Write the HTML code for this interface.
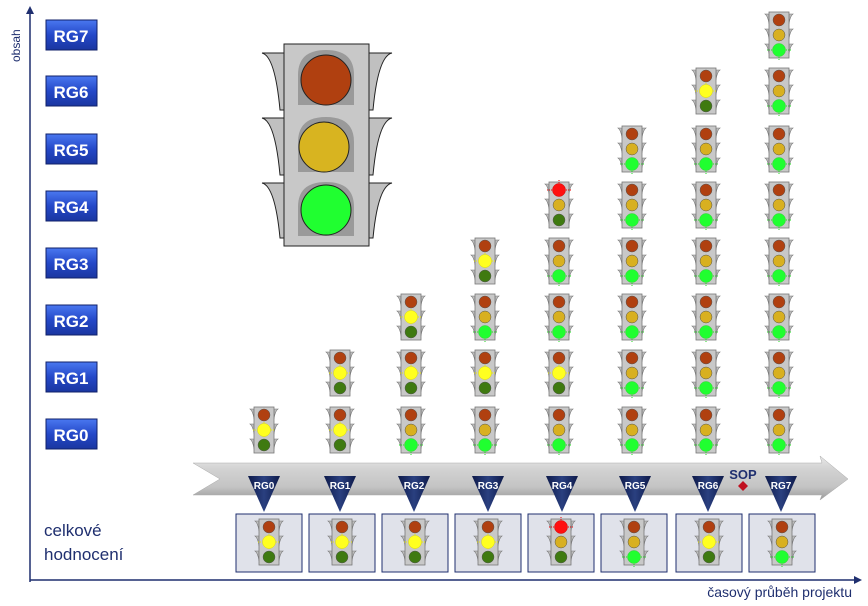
<!DOCTYPE html>
<html><head><meta charset="utf-8"><style>
html,body{margin:0;padding:0;background:#fff;width:868px;height:606px;overflow:hidden}
svg{display:block;font-family:"Liberation Sans",sans-serif}
</style></head><body>
<svg width="868" height="606" viewBox="0 0 868 606" xmlns="http://www.w3.org/2000/svg">
<defs>
<linearGradient id="btn" x1="0" y1="0" x2="0" y2="1"><stop offset="0" stop-color="#4a78f0"/><stop offset="0.5" stop-color="#2448c8"/><stop offset="1" stop-color="#1a36a0"/></linearGradient>
<linearGradient id="band" x1="0" y1="0" x2="0" y2="1"><stop offset="0" stop-color="#e8e8e8"/><stop offset="0.3" stop-color="#d2d2d2"/><stop offset="0.7" stop-color="#c4c4c4"/><stop offset="1" stop-color="#9a9a9a"/></linearGradient>
<linearGradient id="tri" x1="0" y1="0" x2="1" y2="0"><stop offset="0" stop-color="#0e1a4a"/><stop offset="0.5" stop-color="#2a4080"/><stop offset="1" stop-color="#0e1a4a"/></linearGradient>
<g id="body">
<path d="M5 4 L1 4 Q4 6 5 14 Z M25 4 L29 4 Q26 6 25 14 Z M5 19 L1 19 Q4 21 5 29 Z M25 19 L29 19 Q26 21 25 29 Z M5 34 L1 34 Q4 36 5 44 Z M25 34 L29 34 Q26 36 25 44 Z" fill="#bdbdbd" stroke="#777" stroke-width="0.6"/>
<rect x="5" y="2" width="20" height="46" fill="#c8c8c8" stroke="#777" stroke-width="0.8"/>
</g>
<symbol id="tY" viewBox="0 0 30 50" width="30" height="50"><use href="#body"/>
<circle cx="15" cy="10" r="6" fill="#b04010" stroke="#555" stroke-width="0.5"/>
<circle cx="15" cy="25" r="6.5" fill="#ffff20" stroke="#dd0" stroke-width="0.5"/>
<path d="M4 25H8M22 25H26M15 17V19M15 31V33" stroke="#ee0" stroke-dasharray="1 1"/>
<circle cx="15" cy="40" r="6" fill="#3f7a10" stroke="#555" stroke-width="0.5"/></symbol>
<symbol id="tG" viewBox="0 0 30 50" width="30" height="50"><use href="#body"/>
<circle cx="15" cy="10" r="6" fill="#b04010" stroke="#555" stroke-width="0.5"/>
<circle cx="15" cy="25" r="6" fill="#d8b020" stroke="#555" stroke-width="0.5"/>
<circle cx="15" cy="40" r="6.5" fill="#20ff30" stroke="#3c3" stroke-width="0.5"/>
<path d="M3 40H8M22 40H27M15 47V50" stroke="#2d2" stroke-dasharray="1 1"/></symbol>
<symbol id="tR" viewBox="0 0 30 50" width="30" height="50"><use href="#body"/>
<circle cx="15" cy="10" r="6.5" fill="#ff1010" stroke="#c00" stroke-width="0.5"/>
<path d="M3 10H8M22 10H27M15 0V3" stroke="#e00" stroke-dasharray="1 1"/>
<circle cx="15" cy="25" r="6" fill="#d8b020" stroke="#555" stroke-width="0.5"/>
<circle cx="15" cy="40" r="6" fill="#3f7a10" stroke="#555" stroke-width="0.5"/></symbol>
</defs>

<!-- axes -->
<line x1="30" y1="582" x2="30" y2="12" stroke="#1f2f6f" stroke-width="1.5"/>
<path d="M26 14 L30 6 L34 14 Z" fill="#1f2f6f"/>
<line x1="30" y1="580" x2="856" y2="580" stroke="#1f2f6f" stroke-width="1.5"/>
<path d="M854 576 L862 580 L854 584 Z" fill="#1f2f6f"/>
<text x="20" y="62" transform="rotate(-90 20 62)" font-size="12" fill="#1f2f6f">obsah</text>
<text x="852" y="597" font-size="14" fill="#1f2f6f" text-anchor="end">časový průběh projektu</text>

<!-- RG buttons -->
<g font-size="17" font-weight="bold" fill="#fff" text-anchor="middle">
<g><rect x="46" y="20" width="51" height="30" fill="url(#btn)" stroke="#10206a"/><text x="71" y="42">RG7</text></g>
<g><rect x="46" y="76" width="51" height="30" fill="url(#btn)" stroke="#10206a"/><text x="71" y="98">RG6</text></g>
<g><rect x="46" y="134" width="51" height="30" fill="url(#btn)" stroke="#10206a"/><text x="71" y="156">RG5</text></g>
<g><rect x="46" y="191" width="51" height="30" fill="url(#btn)" stroke="#10206a"/><text x="71" y="213">RG4</text></g>
<g><rect x="46" y="248" width="51" height="30" fill="url(#btn)" stroke="#10206a"/><text x="71" y="270">RG3</text></g>
<g><rect x="46" y="305" width="51" height="30" fill="url(#btn)" stroke="#10206a"/><text x="71" y="327">RG2</text></g>
<g><rect x="46" y="362" width="51" height="30" fill="url(#btn)" stroke="#10206a"/><text x="71" y="384">RG1</text></g>
<g><rect x="46" y="419" width="51" height="30" fill="url(#btn)" stroke="#10206a"/><text x="71" y="441">RG0</text></g>
</g>

<!-- big light -->
<g stroke="#222" stroke-width="1">
<path d="M284 53 L262 53 Q275 56 280 110 L284 110 Z M369 53 L392 53 Q378 56 373 110 L369 110 Z" fill="#c0c0c0"/>
<path d="M284 118 L262 118 Q275 121 280 175 L284 175 Z M369 118 L392 118 Q378 121 373 175 L369 175 Z" fill="#c0c0c0"/>
<path d="M284 183 L262 183 Q275 186 280 238 L284 238 Z M369 183 L392 183 Q378 186 373 238 L369 238 Z" fill="#c0c0c0"/>
<rect x="284" y="44" width="85" height="202" fill="#c8c8c8"/>
</g>
<g fill="#9a9a9a"><path d="M298 105 V75 Q298 50 326 50 Q354 50 354 75 V105 Z"/><path d="M298 172 V142 Q298 117 326 117 Q354 117 354 142 V172 Z"/><path d="M298 236 V207 Q298 182 326 182 Q354 182 354 207 V236 Z"/></g>
<circle cx="326" cy="80" r="25" fill="#b04010" stroke="#222"/>
<circle cx="324" cy="147" r="25" fill="#d8b420" stroke="#222"/>
<circle cx="326" cy="210" r="25" fill="#20ff30" stroke="#222"/>

<!-- grid of small lights -->
<use href="#tY" x="249" y="405"/>
<use href="#tY" x="325" y="405"/><use href="#tY" x="325" y="348"/>
<use href="#tG" x="396" y="405"/><use href="#tY" x="396" y="348"/><use href="#tY" x="396" y="292"/>
<use href="#tG" x="470" y="405"/><use href="#tY" x="470" y="348"/><use href="#tG" x="470" y="292"/><use href="#tY" x="470" y="236"/>
<use href="#tG" x="544" y="405"/><use href="#tY" x="544" y="348"/><use href="#tG" x="544" y="292"/><use href="#tG" x="544" y="236"/><use href="#tR" x="544" y="180"/>
<use href="#tG" x="617" y="405"/><use href="#tG" x="617" y="348"/><use href="#tG" x="617" y="292"/><use href="#tG" x="617" y="236"/><use href="#tG" x="617" y="180"/><use href="#tG" x="617" y="124"/>
<use href="#tG" x="691" y="405"/><use href="#tG" x="691" y="348"/><use href="#tG" x="691" y="292"/><use href="#tG" x="691" y="236"/><use href="#tG" x="691" y="180"/><use href="#tG" x="691" y="124"/><use href="#tY" x="691" y="66"/>
<use href="#tG" x="764" y="405"/><use href="#tG" x="764" y="348"/><use href="#tG" x="764" y="292"/><use href="#tG" x="764" y="236"/><use href="#tG" x="764" y="180"/><use href="#tG" x="764" y="124"/><use href="#tG" x="764" y="66"/><use href="#tG" x="764" y="10"/>

<!-- band arrow -->
<path d="M193 463 L822 463 L820 456 L848 479 L820 500 L822 495 L193 495 L220 479 Z" fill="url(#band)" stroke="#aaa" stroke-width="0.5"/>

<!-- triangles -->
<g font-size="10" font-weight="bold" fill="#fff" text-anchor="middle">
<path d="M248 476 L280 476 L264 512 Z" fill="url(#tri)"/><text x="264" y="489">RG0</text>
<path d="M324 476 L356 476 L340 512 Z" fill="url(#tri)"/><text x="340" y="489">RG1</text>
<path d="M398 476 L430 476 L414 512 Z" fill="url(#tri)"/><text x="414" y="489">RG2</text>
<path d="M472 476 L504 476 L488 512 Z" fill="url(#tri)"/><text x="488" y="489">RG3</text>
<path d="M546 476 L578 476 L562 512 Z" fill="url(#tri)"/><text x="562" y="489">RG4</text>
<path d="M619 476 L651 476 L635 512 Z" fill="url(#tri)"/><text x="635" y="489">RG5</text>
<path d="M692 476 L724 476 L708 512 Z" fill="url(#tri)"/><text x="708" y="489">RG6</text>
<path d="M765 476 L797 476 L781 512 Z" fill="url(#tri)"/><text x="781" y="489">RG7</text>
</g>
<text x="743" y="479" font-size="13" font-weight="bold" fill="#1f2f6f" text-anchor="middle">SOP</text>
<path d="M743 481 L748 486 L743 491 L738 486 Z" fill="#c01020"/>

<!-- bottom boxes -->
<g fill="#e0e2ea" stroke="#1f2f6f" stroke-width="1">
<rect x="236" y="514" width="66" height="58"/><rect x="309" y="514" width="66" height="58"/>
<rect x="382" y="514" width="66" height="58"/><rect x="455" y="514" width="66" height="58"/>
<rect x="528" y="514" width="66" height="58"/><rect x="601" y="514" width="66" height="58"/>
<rect x="676" y="514" width="66" height="58"/><rect x="749" y="514" width="66" height="58"/>
</g>
<use href="#tY" x="254" y="517"/><use href="#tY" x="327" y="517"/><use href="#tY" x="400" y="517"/><use href="#tY" x="473" y="517"/>
<use href="#tR" x="546" y="517"/><use href="#tG" x="619" y="517"/><use href="#tY" x="694" y="517"/><use href="#tG" x="767" y="517"/>

<text x="44" y="536" font-size="17" fill="#1f2f6f">celkové</text>
<text x="44" y="560" font-size="17" fill="#1f2f6f">hodnocení</text>
</svg>
</body></html>
